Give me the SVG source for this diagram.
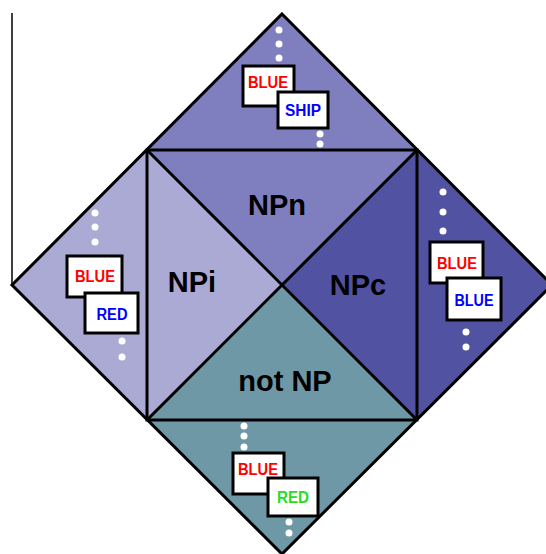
<svg xmlns="http://www.w3.org/2000/svg" width="546" height="554" viewBox="0 0 546 554">
  <style>
    .edge { fill: none; stroke: #000; stroke-width: 3; stroke-linejoin: miter; }
    .card { fill: #fff; stroke: #000; stroke-width: 3; }
    .dot { fill: #fff; }
    .big { font-family: "Liberation Sans", Arial, sans-serif; font-weight: bold; font-size: 29px; fill: #000; text-anchor: middle; }
    .word { font-family: "Liberation Sans", Arial, sans-serif; font-weight: bold; font-size: 16px; text-anchor: middle; }
    .red { fill: #ff0000; }
    .blue { fill: #0000ff; }
    .green { fill: #22dd22; }
  </style>

  <rect width="546" height="554" fill="#fff"/>

  <!-- NPn quadrant: upper outer triangle plus inner triangle -->
  <g id="npn">
    <polygon points="282,14 417,150 282,285 147,150" fill="#7f7fbf"/>
    <text class="big" x="277" y="215">NPn</text>
    <circle class="dot" cx="279" cy="30" r="3.5"/>
    <circle class="dot" cx="279" cy="44" r="3.5"/>
    <circle class="dot" cx="279" cy="58" r="3.5"/>
    <rect class="card" x="243" y="66" width="51" height="40"/>
    <text class="word red" x="268" y="88" textLength="40" lengthAdjust="spacingAndGlyphs">BLUE</text>
    <rect class="card" x="278" y="92" width="50" height="36"/>
    <text class="word blue" x="303" y="116" textLength="36" lengthAdjust="spacingAndGlyphs">SHIP</text>
    <circle class="dot" cx="320" cy="134" r="3.5"/>
    <circle class="dot" cx="320" cy="144" r="3.5"/>
  </g>

  <!-- NPi quadrant -->
  <g id="npi">
    <polygon points="12,285 147,150 282,285 147,420" fill="#aaaad4"/>
    <text class="big" x="192" y="292">NPi</text>
    <circle class="dot" cx="95" cy="213" r="3.5"/>
    <circle class="dot" cx="95" cy="227" r="3.5"/>
    <circle class="dot" cx="95" cy="242" r="3.5"/>
    <rect class="card" x="67" y="256" width="55" height="41"/>
    <text class="word red" x="95" y="282" textLength="40" lengthAdjust="spacingAndGlyphs">BLUE</text>
    <rect class="card" x="85" y="293" width="53" height="40"/>
    <text class="word blue" x="112" y="320" textLength="31" lengthAdjust="spacingAndGlyphs">RED</text>
    <circle class="dot" cx="122" cy="341" r="3.5"/>
    <circle class="dot" cx="122" cy="357" r="3.5"/>
  </g>

  <!-- NPc quadrant -->
  <g id="npc">
    <polygon points="552,285 417,420 282,285 417,150" fill="#5252a2"/>
    <text class="big" x="358" y="295">NPc</text>
    <circle class="dot" cx="443" cy="192" r="3.5"/>
    <circle class="dot" cx="443" cy="212" r="3.5"/>
    <circle class="dot" cx="443" cy="231" r="3.5"/>
    <rect class="card" x="430" y="242" width="53" height="41"/>
    <text class="word red" x="457" y="269" textLength="40" lengthAdjust="spacingAndGlyphs">BLUE</text>
    <rect class="card" x="447" y="278" width="54" height="42"/>
    <text class="word blue" x="474" y="306" textLength="39" lengthAdjust="spacingAndGlyphs">BLUE</text>
    <circle class="dot" cx="466" cy="332" r="3.5"/>
    <circle class="dot" cx="466" cy="347" r="3.5"/>
  </g>

  <!-- not NP quadrant -->
  <g id="notnp">
    <polygon points="282,554 147,420 282,285 417,420" fill="#6f98a6"/>
    <text class="big" x="285" y="391">not NP</text>
    <circle class="dot" cx="244" cy="426" r="3.5"/>
    <circle class="dot" cx="244" cy="436" r="3.5"/>
    <circle class="dot" cx="244" cy="447" r="3.5"/>
    <rect class="card" x="233" y="453" width="51" height="41"/>
    <text class="word red" x="258" y="475" textLength="40" lengthAdjust="spacingAndGlyphs">BLUE</text>
    <rect class="card" x="268" y="478" width="50" height="38"/>
    <text class="word green" x="293" y="503" textLength="32" lengthAdjust="spacingAndGlyphs">RED</text>
    <circle class="dot" cx="289" cy="522" r="3.5"/>
    <circle class="dot" cx="289" cy="533" r="3.5"/>
  </g>

  <!-- outlines: outer diamond, inner square, diagonals, left axis -->
  <g id="connectors">
    <polygon class="edge" points="282,14 552,285 282,554 12,285"/>
    <rect class="edge" x="147" y="150" width="270" height="270"/>
    <line class="edge" x1="147" y1="150" x2="417" y2="420"/>
    <line class="edge" x1="417" y1="150" x2="147" y2="420"/>
    <line x1="12" y1="13" x2="12" y2="285" stroke="#000" stroke-width="1.5"/>
  </g>
</svg>
